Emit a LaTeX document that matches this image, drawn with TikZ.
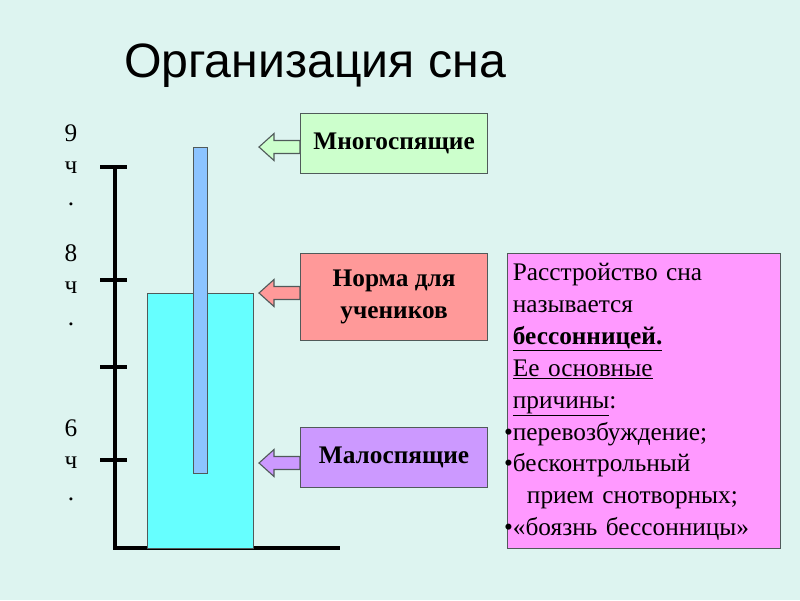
\documentclass[tikz,border=0pt]{standalone}
\usepackage{fontspec}
\setmainfont{Liberation Serif}
\newfontfamily\titlefont{Liberation Sans}
\usetikzlibrary{positioning}

\begin{document}
\begin{tikzpicture}[x=0.025cm, y=-0.025cm]
    \definecolor{slidebg}{RGB}{221,244,240}
    \definecolor{edgegray}{RGB}{80,90,90}
    \definecolor{normcyan}{RGB}{102,255,255}
    \definecolor{barblue}{RGB}{140,196,255}
    \definecolor{manygreen}{RGB}{204,255,204}
    \definecolor{normred}{RGB}{255,153,153}
    \definecolor{fewviolet}{RGB}{204,153,255}
    \definecolor{causepink}{RGB}{255,153,255}
    \tikzset{
      hourlbl/.style={font=\fontsize{18}{23}\selectfont, align=center, anchor=north, inner sep=0pt},
      sleepbox/.style={draw=edgegray, line width=0.8pt, anchor=north west, minimum width=4.675cm,
        align=center, font=\bfseries\fontsize{18}{23}\selectfont},
      blockarr/.style={draw=edgegray, line width=0.8pt}
    }

    % slide background
    \fill[slidebg] (0,0) rectangle (800,600);

    \node[font=\titlefont\fontsize{34.3}{40}\selectfont, anchor=base] (title) at (315,77) {Организация сна};

    % time scale: axis, base line and ticks
    \draw[line width=2.8pt] (115,167) -- (115,548) -- (340,548);
    \foreach \ty in {167,280,367,460}
      \draw[line width=2.8pt] (100,\ty) -- (127,\ty);
    \node[hourlbl] (nine) at (71,124) {9\\ч\\.};
    \node[hourlbl] (eight) at (71,244) {8\\ч\\.};
    \node[hourlbl] (six) at (71,419) {6\\ч\\.};

    % sleep norm column and range bar
    \draw[draw=edgegray, fill=normcyan] (147,293) rectangle (253,548);
    \draw[draw=edgegray, fill=barblue] (193,147) rectangle (207,473);

    % groups
    \node[sleepbox, fill=manygreen, minimum height=1.5cm] (many) at (300,113) {Многоспящие};
    \node[sleepbox, fill=normred, minimum height=2.175cm] (norm) at (300,253) {Норма для\\учеников};
    \node[sleepbox, fill=fewviolet, minimum height=1.5cm] (few) at (300,427) {Малоспящие};

    % block arrows pointing at the levels
    \coordinate (tipmany) at (259,147);
    \coordinate (tipnorm) at (259,293);
    \coordinate (tipfew) at (259,463);
    \foreach \tip/\col in {tipmany/manygreen, tipnorm/normred, tipfew/fewviolet}
      \draw[blockarr, fill=\col] (\tip) -- ++(15,-13.5) -- ++(0,7) -- ++(26,0) -- ++(0,13)
        -- ++(-26,0) -- ++(0,7) -- cycle;

    % insomnia note
    \node[draw=edgegray, line width=0.8pt, fill=causepink, anchor=north west,
      minimum width=6.825cm, minimum height=7.375cm, inner sep=0pt] (causebox) at (507,253) {};
    \node[below right=7pt and 4pt of causebox.north west, inner sep=0pt,
      text width=6.5cm, align=left, font=\fontsize{18}{22.7}\selectfont] (causes)
      {Расстройство сна\\
       называется\\
       \underline{\textbf{бессонницей.}}\\
       \underline{Ее основные}\\
       \underline{причины}:\\
       \leavevmode\llap{•}перевозбуждение;\\
       \leavevmode\llap{•}бесконтрольный\\
       \hspace*{10pt}прием снотворных;\\
       \leavevmode\llap{•}«боязнь бессонницы»};
\end{tikzpicture}
\end{document}
